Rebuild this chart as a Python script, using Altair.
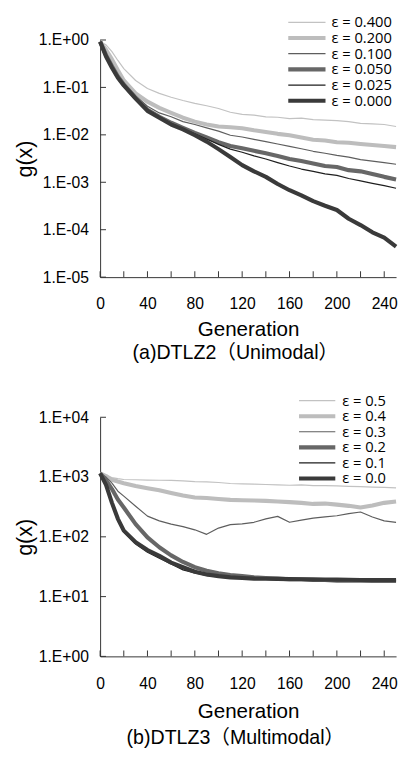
import altair as alt
import pandas as pd

# ---------------- data ----------------
gens = [0, 5, 10, 15, 20, 30, 40, 50, 60, 70, 80, 90, 100, 110, 120, 130,
        140, 150, 160, 170, 180, 190, 200, 210, 220, 230, 240, 250]

x_tick_marks = [0, 20, 40, 60, 80, 100, 120, 140, 160, 180, 200, 220, 240]
x_tick_labels = [0, 40, 80, 120, 160, 200, 240]

# (a) DTLZ2
top_labels = ["ε = 0.400", "ε = 0.200", "ε = 0.100", "ε = 0.050", "ε = 0.025", "ε = 0.000"]
top_e400 = [0.92, 0.79, 0.57, 0.37, 0.25, 0.14, 0.095, 0.075, 0.062, 0.053, 0.046, 0.041, 0.036, 0.030,
            0.027, 0.026, 0.024, 0.0235, 0.022, 0.0225, 0.021, 0.0205, 0.020, 0.019, 0.0175, 0.017, 0.0165, 0.015]
top_e200 = [0.92, 0.62, 0.39, 0.23, 0.14, 0.075, 0.050, 0.037, 0.029, 0.023, 0.019, 0.0165, 0.015, 0.0145,
            0.0138, 0.0125, 0.0115, 0.0105, 0.0098, 0.0088, 0.0079, 0.0076, 0.0070, 0.0068, 0.0064, 0.0061, 0.0058, 0.0055]
top_e100 = [0.92, 0.50, 0.29, 0.18, 0.125, 0.066, 0.040, 0.029, 0.024, 0.019, 0.0165, 0.014, 0.012, 0.0098,
            0.0090, 0.0080, 0.0072, 0.0064, 0.0057, 0.0051, 0.0045, 0.0041, 0.0037, 0.0034, 0.0030, 0.0028, 0.0026, 0.0024]
top_e050 = [0.92, 0.48, 0.28, 0.17, 0.115, 0.060, 0.034, 0.024, 0.018, 0.0140, 0.0110, 0.0088, 0.0070, 0.0058,
            0.0052, 0.0046, 0.0041, 0.0036, 0.0031, 0.0028, 0.0025, 0.0022, 0.0021, 0.0018, 0.0017, 0.0015, 0.0013, 0.00115]
top_e025 = [0.92, 0.48, 0.28, 0.17, 0.115, 0.060, 0.034, 0.024, 0.0175, 0.0135, 0.0105, 0.0082, 0.0063, 0.0050,
            0.0043, 0.0036, 0.0031, 0.0026, 0.0022, 0.0019, 0.0017, 0.0015, 0.0014, 0.0012, 0.00107, 0.00095, 0.00085, 0.00075]
top_e000 = [0.92, 0.45, 0.26, 0.16, 0.11, 0.058, 0.032, 0.023, 0.0165, 0.013, 0.0098, 0.0072, 0.0050, 0.0034,
            0.0023, 0.0017, 0.0013, 0.00092, 0.00068, 0.00053, 0.00040, 0.00032, 0.00026, 0.00017, 0.000125, 0.000088, 0.000068, 0.000044]
top_y_ticks = [1e-05, 1e-04, 1e-03, 1e-02, 1e-01, 1.0]
top_y_labels = ["1.E-05", "1.E-04", "1.E-03", "1.E-02", "1.E-01", "1.E+00"]
top_caption = "(a)DTLZ2（Unimodal）"

# (b) DTLZ3
bot_labels = ["ε = 0.5", "ε = 0.4", "ε = 0.3", "ε = 0.2", "ε = 0.1", "ε = 0.0"]
bot_e5 = [1150, 1040, 980, 940, 910, 900, 890, 885, 880, 860, 840, 830, 810, 780,
          770, 760, 750, 740, 730, 740, 720, 720, 710, 700, 690, 680, 670, 660]
bot_e4 = [1150, 1040, 900, 840, 790, 710, 650, 600, 540, 490, 455, 445, 430, 415,
          410, 405, 400, 390, 380, 370, 355, 360, 345, 330, 310, 335, 370, 390]
bot_e3 = [1150, 1000, 790, 580, 480, 325, 222, 185, 163, 148, 131, 110, 140, 160,
          165, 175, 200, 220, 175, 190, 205, 215, 225, 245, 260, 215, 185, 175]
bot_e2 = [1150, 890, 630, 420, 310, 163, 98, 67, 49, 38, 31, 27, 24.5, 23,
          22, 21, 20.5, 20, 19.5, 19.5, 19, 19, 18.5, 18.5, 18.5, 18.3, 18.3, 18.3]
bot_e1 = [1150, 690, 350, 185, 120, 76, 55, 44, 35, 28, 25, 22.5, 21.5, 21,
          20.5, 20, 20, 19.8, 19.6, 19.5, 19.3, 19.2, 19, 19, 19, 18.9, 18.8, 18.8]
bot_e0 = [1150, 740, 370, 200, 127, 81, 60, 48, 37, 31, 26, 23.5, 22, 21,
          20.5, 20, 19.9, 19.8, 19.6, 19.5, 19.4, 19.3, 19.2, 19.1, 19, 19, 19, 19]
bot_y_ticks = [1.0, 10.0, 100.0, 1000.0, 10000.0]
bot_y_labels = ["1.E+00", "1.E+01", "1.E+02", "1.E+03", "1.E+04"]
bot_caption = "(b)DTLZ3（Multimodal）"

# ---------------- styles ----------------
series_colors = ["#c2c2c2", "#bdbdbd", "#5e5e5e", "#676767", "#1e1e1e", "#3a3a3a"]
series_widths = [1.2, 4.2, 1.2, 4.2, 1.2, 4.2]
AXIS_COLOR = "#333333"
FONT = "Liberation Sans"
CAP_FONT = "Liberation Sans, Noto Sans CJK JP"
PLOT_W = 302


def label_expr(values, labels):
    s = ""
    for v, l in zip(values, labels):
        s += f"abs(datum.value - {v!r}) < {v * 1e-6!r} ? '{l}' : "
    return s + "''"


def panel(series, labels, yticks, ylabels, height, caption, leg, lay):
    rows = []
    for lab, vals in zip(labels, series):
        for g, v in zip(gens, vals):
            rows.append({"gen": g, "g": v, "eps": lab})
    df = pd.DataFrame(rows)

    xs = alt.Scale(domain=[0, 250], nice=False, zero=False)
    ys = alt.Scale(type="log", domain=[yticks[0], yticks[-1]], nice=False)
    xax = alt.Axis(values=x_tick_labels, title="Generation", ticks=False, grid=False,
                   domainColor=AXIS_COLOR, labelFont=FONT, labelFontSize=16, labelColor="black",
                   labelPadding=lay["lp"], titleFont=FONT, titleFontSize=21, titleFontWeight="normal",
                   titleColor="black", titlePadding=lay["tp"], labelFlush=False)
    yax = alt.Axis(values=yticks, labelExpr=label_expr(yticks, ylabels), title="g(x)",
                   ticks=False, grid=False, domainColor=AXIS_COLOR, labelFont=FONT,
                   labelFontSize=16, labelColor="black", labelPadding=12, titleFont=FONT,
                   titleFontSize=22, titleFontWeight="normal", titleColor="black", titlePadding=2)

    layers = []
    # inward tick marks
    layers.append(
        alt.Chart(pd.DataFrame({"g": yticks})).mark_rule(color=AXIS_COLOR, strokeWidth=1).encode(
            y=alt.Y("g:Q", scale=ys, axis=yax), x=alt.value(0), x2=alt.value(6)))
    layers.append(
        alt.Chart(pd.DataFrame({"gen": x_tick_marks})).mark_rule(color=AXIS_COLOR, strokeWidth=1).encode(
            x=alt.X("gen:Q", scale=xs, axis=xax), y=alt.value(height), y2=alt.value(height - 6)))
    for lab, c, w in zip(labels, series_colors, series_widths):
        layers.append(
            alt.Chart(df).transform_filter(alt.datum.eps == lab).mark_line(
                color=c, strokeWidth=w, strokeJoin="round").encode(
                x=alt.X("gen:Q", scale=xs, axis=xax), y=alt.Y("g:Q", scale=ys, axis=yax)))
    # legend
    for i, (lab, c, w) in enumerate(zip(labels, series_colors, series_widths)):
        ypx = leg["y0"] + leg["dy"] * i
        ld = pd.DataFrame({"label": [lab]})
        layers.append(alt.Chart(ld).mark_rule(color=c, strokeWidth=w).encode(
            x=alt.value(leg["x0"]), x2=alt.value(leg["x1"]), y=alt.value(ypx)))
        layers.append(alt.Chart(ld).mark_text(align="left", baseline="middle", font="Open Sans",
                                              fontSize=15, color="black").encode(
            x=alt.value(leg["tx"]), y=alt.value(ypx), text="label:N"))

    return alt.layer(*layers).properties(
        width=PLOT_W, height=height,
        title=alt.TitleParams(caption, orient="bottom", anchor="middle", font=CAP_FONT,
                              fontSize=20, fontWeight="normal", color="black",
                              offset=lay["off"], dx=-13))


top = panel([top_e400, top_e200, top_e100, top_e050, top_e025, top_e000], top_labels,
            top_y_ticks, top_y_labels, 242, top_caption,
            {"y0": -18, "dy": 16, "x0": 192, "x1": 230, "tx": 236},
            {"lp": 19, "tp": 8, "off": 4})
bottom = panel([bot_e5, bot_e4, bot_e3, bot_e2, bot_e1, bot_e0], bot_labels,
               bot_y_ticks, bot_y_labels, 244, bot_caption,
               {"y0": -17, "dy": 15.9, "x0": 203, "x1": 240, "tx": 247},
               {"lp": 20, "tp": 9, "off": 7})

chart = alt.vconcat(top, bottom, spacing=31).properties(
    padding={"left": 5, "top": 0, "right": 0, "bottom": 0}
).configure_view(stroke=None)

chart.save("out.html", embed_options={"renderer": "svg", "actions": False})
